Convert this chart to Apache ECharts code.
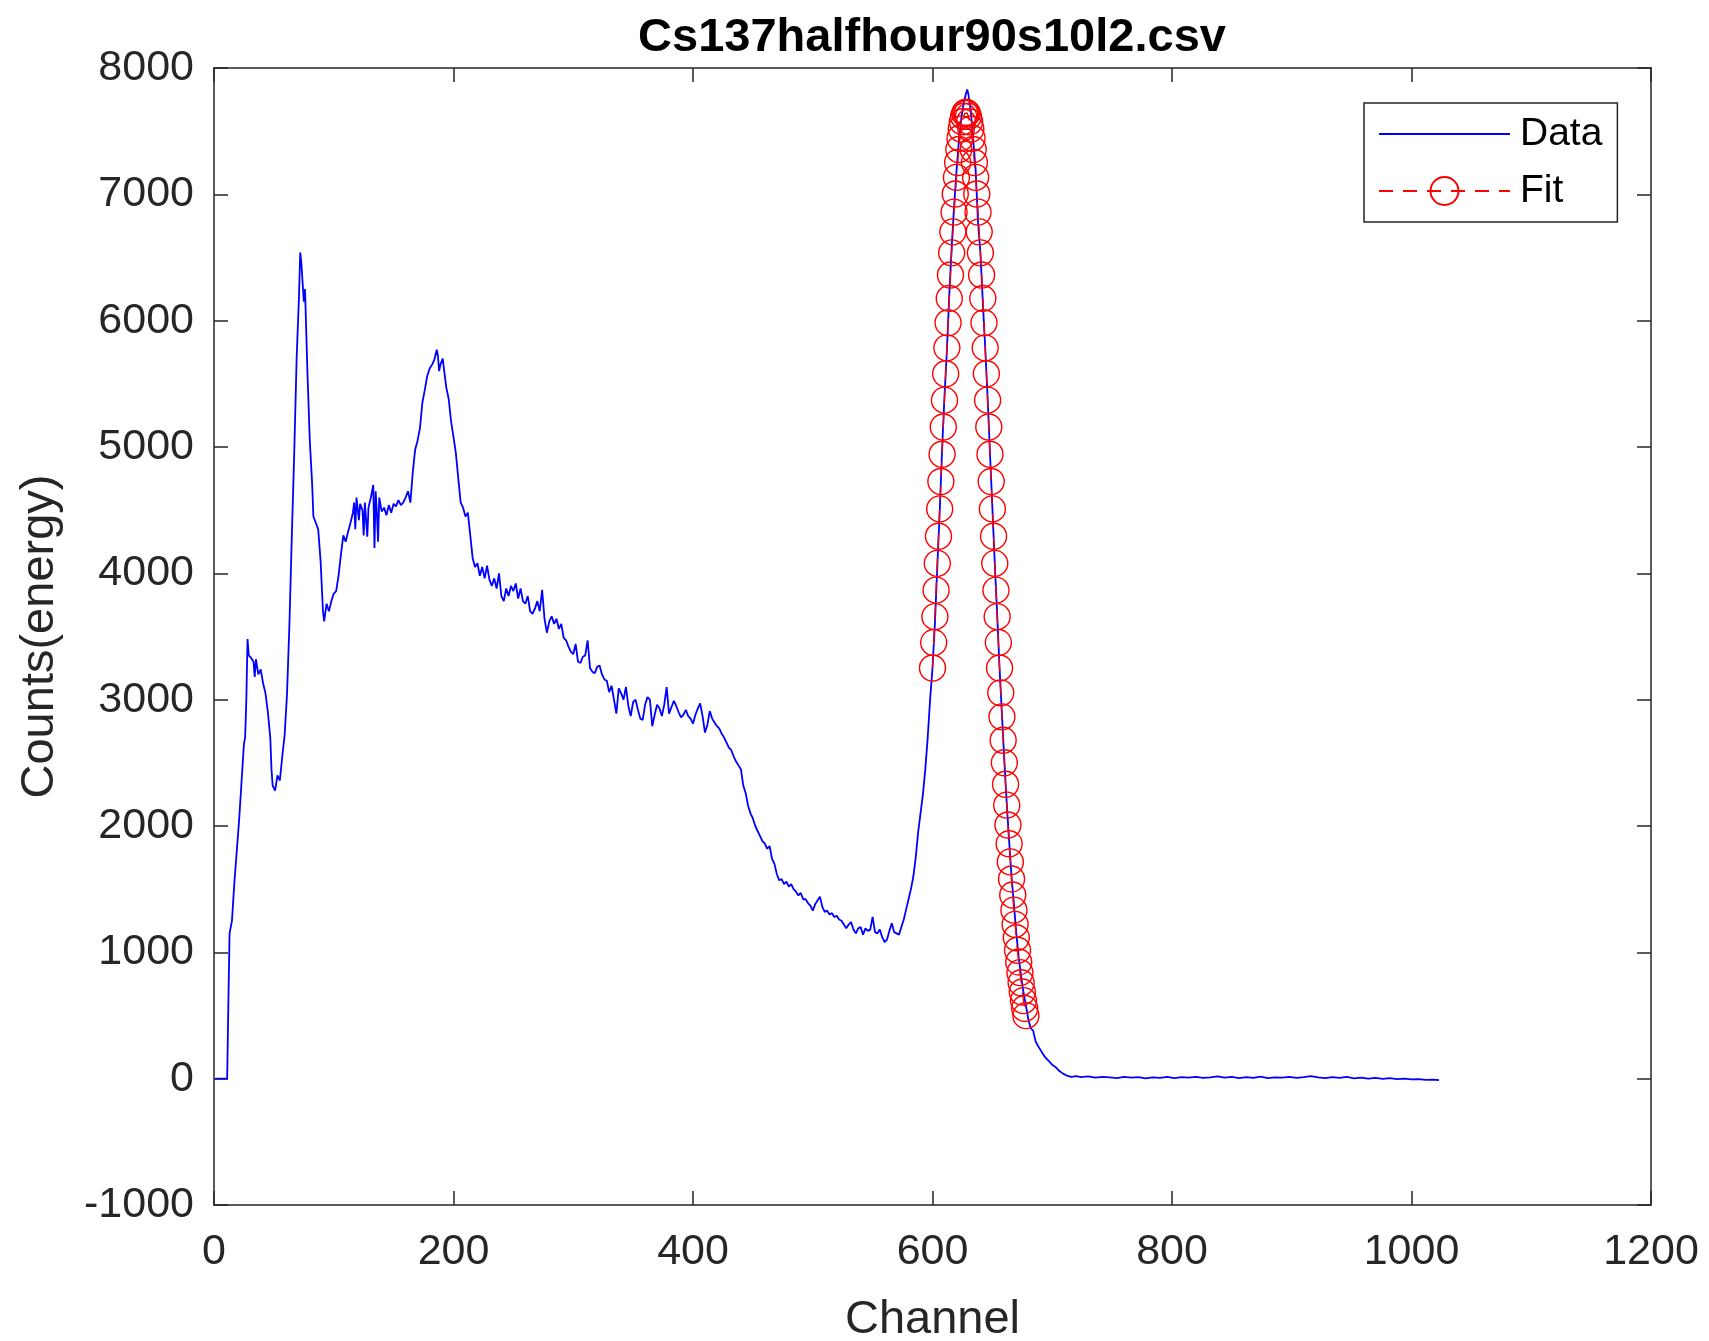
<!DOCTYPE html>
<html>
<head>
<meta charset="utf-8">
<title>Cs137 spectrum</title>
<script src="https://cdn.jsdelivr.net/npm/echarts@6/dist/echarts.min.js"></script>
<style>
  html, body { margin: 0; padding: 0; background: #ffffff; }
  #chart { width: 1709px; height: 1341px; }
</style>
</head>
<body>
<div id="chart"></div>
<script>
// Measured spectrum: channel numbers and counts per channel
const dataChannels = [
  1, 5, 9, 11, 12, 13, 15, 17, 19, 21, 23, 25, 26, 27, 28, 29, 31, 33, 34, 35,
  37, 39, 41, 43, 45, 47, 48, 49, 51, 53, 55, 57, 59, 61, 63, 65, 67, 69, 71, 72,
  73, 75, 76, 78, 80, 82, 83, 85, 87, 89, 91, 92, 94, 96, 98, 100, 102, 104, 106, 108,
  110, 112, 114, 116, 117, 118, 119, 121, 122, 124, 125, 126, 128, 129, 131, 133, 134, 135, 136, 137,
  138, 140, 142, 144, 146, 148, 150, 152, 154, 156, 158, 160, 162, 164, 166, 168, 170, 172, 174, 176,
  178, 180, 182, 184, 186, 187, 188, 189, 191, 192, 194, 196, 198, 200, 202, 204, 206, 208, 210, 212,
  214, 216, 218, 220, 222, 224, 226, 228, 230, 232, 234, 236, 238, 240, 242, 244, 246, 248, 250, 252,
  254, 256, 258, 260, 262, 264, 266, 268, 270, 272, 274, 276, 278, 280, 282, 284, 286, 288, 290, 292,
  294, 296, 298, 300, 302, 304, 306, 308, 310, 312, 314, 316, 318, 320, 322, 324, 326, 328, 330, 332,
  334, 336, 338, 340, 342, 344, 346, 348, 350, 352, 354, 356, 358, 360, 362, 364, 366, 368, 370, 372,
  374, 376, 378, 380, 382, 384, 386, 388, 390, 392, 394, 396, 398, 400, 402, 404, 406, 408, 410, 412,
  414, 416, 418, 420, 422, 424, 426, 428, 430, 432, 434, 436, 438, 440, 442, 444, 446, 448, 450, 452,
  454, 456, 458, 460, 462, 464, 466, 468, 470, 472, 474, 476, 478, 480, 482, 484, 486, 488, 490, 492,
  494, 496, 498, 500, 502, 504, 506, 508, 510, 512, 514, 516, 518, 520, 522, 524, 526, 528, 530, 532,
  534, 536, 538, 540, 542, 544, 546, 548, 550, 552, 554, 556, 558, 560, 562, 564, 566, 568, 570, 572,
  574, 576, 578, 580, 582, 584, 586, 588, 590, 592, 594, 596, 598, 600, 602, 604, 606, 608, 610, 612,
  614, 616, 618, 620, 622, 624, 626, 628, 629, 630, 632, 634, 636, 638, 640, 642, 644, 646, 648, 650,
  652, 654, 656, 658, 660, 662, 664, 666, 668, 670, 672, 674, 676, 678, 680, 682, 684, 686, 688, 690,
  692, 694, 696, 698, 700, 703, 706, 709, 712, 716, 720, 724, 730, 736, 742, 748, 754, 760, 766, 772,
  778, 784, 790, 796, 802, 808, 814, 820, 826, 832, 838, 844, 850, 856, 862, 868, 874, 880, 886, 892,
  898, 904, 910, 916, 922, 928, 934, 940, 946, 952, 958, 964, 970, 976, 982, 988, 994, 1000, 1006, 1012,
  1018, 1023
];
const dataCounts = [
  0, 0, 0, 0, 600, 1150, 1250, 1550, 1800, 2050, 2350, 2650, 2700, 3000, 3480, 3350, 3330, 3300, 3180, 3320,
  3200, 3240, 3130, 3050, 2900, 2700, 2450, 2320, 2280, 2400, 2360, 2550, 2720, 3050, 3600, 4300, 4950, 5700, 6200, 6540,
  6450, 6150, 6250, 5600, 5050, 4700, 4450, 4400, 4350, 4100, 3700, 3620, 3760, 3700, 3780, 3840, 3860, 3980, 4150, 4300,
  4250, 4330, 4400, 4480, 4560, 4350, 4600, 4420, 4550, 4500, 4300, 4560, 4290, 4520, 4600, 4700, 4200, 4650, 4480, 4250,
  4600, 4490, 4520, 4460, 4540, 4480, 4550, 4530, 4580, 4540, 4560, 4600, 4650, 4560, 4800, 4980, 5050, 5150, 5350, 5450,
  5560, 5620, 5650, 5690, 5770, 5720, 5600, 5650, 5700, 5620, 5470, 5380, 5200, 5080, 4950, 4750, 4560, 4520, 4450, 4480,
  4300, 4120, 4050, 4080, 3980, 4050, 3960, 4060, 3950, 3900, 3960, 3880, 4000, 3820, 3780, 3880, 3820, 3900, 3860, 3920,
  3800, 3880, 3780, 3760, 3820, 3700, 3680, 3720, 3780, 3700, 3870, 3640, 3530, 3620, 3660, 3600, 3640, 3560, 3600, 3490,
  3470, 3420, 3380, 3360, 3440, 3300, 3290, 3340, 3350, 3470, 3250, 3220, 3210, 3260, 3270, 3200, 3160, 3150, 3060, 3110,
  3000, 2890, 3090, 3050, 3000, 3100, 2950, 2870, 2980, 3000, 2920, 2850, 2840, 2960, 3020, 3000, 2790, 2880, 2960, 2930,
  2870, 2960, 3100, 2890, 2940, 2990, 2950, 2900, 2860, 2880, 2920, 2870, 2850, 2810, 2880, 2930, 2970, 2870, 2740, 2800,
  2910, 2850, 2820, 2790, 2770, 2730, 2700, 2660, 2620, 2600, 2550, 2510, 2480, 2450, 2320, 2260, 2160, 2100, 2060, 2000,
  1960, 1920, 1880, 1860, 1820, 1840, 1740, 1700, 1620, 1570, 1580, 1540, 1560, 1520, 1540, 1500, 1480, 1450, 1470, 1420,
  1420, 1390, 1370, 1330, 1380, 1410, 1440, 1360, 1320, 1330, 1300, 1310, 1280, 1290, 1260, 1250, 1220, 1190, 1220, 1240,
  1180, 1150, 1190, 1200, 1140, 1190, 1170, 1180, 1280, 1160, 1150, 1180, 1120, 1080, 1100, 1170, 1230, 1160, 1150, 1140,
  1200, 1260, 1340, 1420, 1500, 1600, 1750, 1950, 2100, 2250, 2450, 2700, 3000, 3250, 3600, 4050, 4480, 4980, 5400, 5760,
  6200, 6580, 6900, 7180, 7420, 7600, 7720, 7800, 7830, 7790, 7660, 7430, 7200, 6780, 6540, 6150, 5790, 5400, 4950, 4520,
  4080, 3680, 3250, 2880, 2520, 2180, 1880, 1600, 1380, 1150, 960, 810, 680, 580, 470, 400, 380, 300, 260, 230,
  200, 170, 150, 130, 110, 90, 60, 40, 25, 15, 20, 12, 18, 8, 14, 10, 5, 15, 8, 12,
  2, 10, 6, 14, 4, 12, 8, 15, 6, 10, 18, 9, 14, 4, 12, 7, 16, 5, 11, 8,
  14, 6, 12, 20, 10, 4, 12, 6, 14, 3, 8, 0, 6, -2, 4, -4, 0, -6, -3, -9,
  -8, -12
];

// Gaussian fit evaluated on the photopeak channels
const fitChannels = [
  600, 601, 602, 603, 604, 605, 606, 607, 608, 609, 610, 611, 612, 613, 614, 615, 616, 617, 618, 619,
  620, 621, 622, 623, 624, 625, 626, 627, 628, 629, 630, 631, 632, 633, 634, 635, 636, 637, 638, 639,
  640, 641, 642, 643, 644, 645, 646, 647, 648, 649, 650, 651, 652, 653, 654, 655, 656, 657, 658, 659,
  660, 661, 662, 663, 664, 665, 666, 667, 668, 669, 670, 671, 672, 673, 674, 675, 676, 677, 678
];
const fitCounts = [
  3251, 3452, 3657, 3867, 4079, 4294, 4510, 4727, 4943, 5158, 5371, 5580, 5785, 5984, 6176, 6361, 6537, 6703, 6859, 7003,
  7134, 7252, 7355, 7444, 7517, 7575, 7617, 7642, 7650, 7642, 7617, 7575, 7517, 7444, 7355, 7252, 7134, 7003, 6859, 6703,
  6537, 6361, 6176, 5984, 5785, 5580, 5371, 5158, 4943, 4727, 4510, 4294, 4079, 3867, 3657, 3452, 3251, 3054, 2864, 2679,
  2501, 2330, 2165, 2008, 1859, 1716, 1581, 1454, 1334, 1221, 1115, 1016, 924, 839, 759, 686, 618, 556, 499
];

// Axis ranges and tick spacing
const xRange = [0, 1200];
const xStep = 200;
const yRange = [-1000, 8000];
const yStep = 1000;

const axisColor = '#262626';
const fontFamily = '"Liberation Sans", Arial, Helvetica, sans-serif';

const dataPoints = dataChannels.map((c, i) => [c, dataCounts[i]]);
const fitPoints = fitChannels.map((c, i) => [c, fitCounts[i]]);

const chart = echarts.init(document.getElementById('chart'), null, { renderer: 'canvas' });

// Plain integers on the ticks (no thousands separators)
const plainNumber = (v) => String(v);
const tickLabel = { color: axisColor, fontSize: 43, fontFamily: fontFamily, formatter: plainNumber };

const axisLineStyle = { color: axisColor, width: 1.5 };
const tickStyle = { show: true, inside: true, length: 14, lineStyle: { color: axisColor, width: 1.5 } };

const option = {
  backgroundColor: '#ffffff',
  animation: false,
  title: {
    text: 'Cs137halfhour90s10l2.csv',
    left: 932,
    top: 15,
    padding: 0,
    textAlign: 'center',
    textStyle: { color: '#000000', fontSize: 47, fontWeight: 'bold', fontFamily: fontFamily }
  },
  legend: {
    orient: 'vertical',
    left: 1364,
    top: 103,
    padding: [11, 15, 11, 14],
    itemWidth: 131,
    itemHeight: 35,
    itemGap: 17,
    backgroundColor: '#ffffff',
    borderColor: axisColor,
    borderWidth: 1.5,
    borderRadius: 0,
    textStyle: { color: '#000000', fontSize: 39, lineHeight: 40, fontFamily: fontFamily, padding: [0, 0, 0, 5] },
    data: [
      // solid line only, no marker
      { name: 'Data', itemStyle: { color: 'rgba(0,0,0,0)', borderColor: 'rgba(0,0,0,0)', borderWidth: 0 } },
      { name: 'Fit' }
    ]
  },
  grid: { left: 214, right: 58, top: 68, bottom: 136, containLabel: false, outerBoundsMode: 'none' },
  xAxis: [
    {
      type: 'value',
      min: xRange[0], max: xRange[1], interval: xStep,
      position: 'bottom',
      name: 'Channel',
      nameLocation: 'middle',
      nameGap: 92,
      nameTextStyle: { color: axisColor, fontSize: 47, fontFamily: fontFamily },
      axisLine: { show: true, onZero: false, lineStyle: axisLineStyle },
      axisTick: tickStyle,
      axisLabel: Object.assign({ margin: 26 }, tickLabel),
      splitLine: { show: false }
    },
    {
      type: 'value',
      min: xRange[0], max: xRange[1], interval: xStep,
      position: 'top',
      axisLine: { show: true, onZero: false, lineStyle: axisLineStyle },
      axisTick: tickStyle,
      axisLabel: { show: false },
      splitLine: { show: false }
    }
  ],
  yAxis: [
    {
      type: 'value',
      min: yRange[0], max: yRange[1], interval: yStep,
      position: 'left',
      name: 'Counts(energy)',
      nameLocation: 'middle',
      nameGap: 150,
      nameTextStyle: { color: axisColor, fontSize: 47, fontFamily: fontFamily },
      axisLine: { show: true, onZero: false, lineStyle: axisLineStyle },
      axisTick: tickStyle,
      axisLabel: Object.assign({ margin: 20 }, tickLabel),
      splitLine: { show: false }
    },
    {
      type: 'value',
      min: yRange[0], max: yRange[1], interval: yStep,
      position: 'right',
      axisLine: { show: true, onZero: false, lineStyle: axisLineStyle },
      axisTick: tickStyle,
      axisLabel: { show: false },
      splitLine: { show: false }
    }
  ],
  series: [
    {
      name: 'Data',
      type: 'line',
      xAxisIndex: 0,
      yAxisIndex: 0,
      data: dataPoints,
      showSymbol: false,
      symbol: 'none',
      lineStyle: { color: '#0000ff', width: 1.8 },
      itemStyle: { color: '#0000ff' },
      z: 2
    },
    {
      name: 'Fit',
      type: 'line',
      xAxisIndex: 0,
      yAxisIndex: 0,
      data: fitPoints,
      symbol: 'circle',
      symbolSize: 26,
      showAllSymbol: true,
      lineStyle: { color: '#ff0000', width: 1.3, type: [14, 10] },
      itemStyle: { color: 'rgba(255,255,255,0)', borderColor: '#ff0000', borderWidth: 1.4 },
      z: 3
    }
  ]
};

chart.setOption(option);
</script>
</body>
</html>
